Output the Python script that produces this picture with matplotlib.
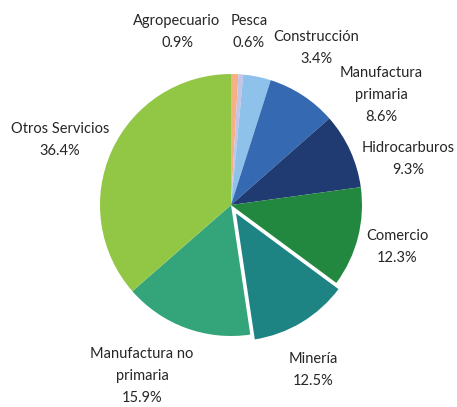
import matplotlib.pyplot as plt

# sector shares (%), clockwise from 12 o'clock
sectors = ["Agropecuario", "Pesca", "Construcción", "Manufactura\nprimaria",
           "Hidrocarburos", "Comercio", "Minería", "Manufactura no\nprimaria",
           "Otros Servicios"]
shares = [0.9, 0.6, 3.4, 8.6, 9.3, 12.3, 12.5, 15.9, 36.4]

colors = ["#F4B183", "#C5C3E6", "#8FC2EA", "#3569B2", "#203A72",
          "#22873F", "#1E8383", "#34A57A", "#92C746"]
# offset in pixels (pie is drawn in pixel-sized data units)
explode = [0, 0, 0, 0, 0, 0, 7, 0, 0]

# label centres in pixel coords (x, y from top)
label_pos = [(177, 32), (249, 32), (316, 48), (381, 95), (408, 159),
             (397, 247), (313, 370), (142, 376), (60, 140)]

W, H = 457, 407
fig = plt.figure(figsize=(W / 100, H / 100), dpi=100)
ax = fig.add_axes([0, 0, 1, 1])

cx, cy, r = 231, H - 205, 131
wedges, _ = ax.pie(shares, colors=colors, explode=explode, startangle=90,
                   counterclock=False, center=(cx, cy), radius=r, frame=True,
                   wedgeprops=dict(linewidth=0))
wedges[6].set_edgecolor("white")
wedges[6].set_linewidth(1.5)
ax.set_xlim(0, W)
ax.set_ylim(0, H)
ax.set_aspect("equal")
ax.axis("off")

for name, val, (x, y) in zip(sectors, shares, label_pos):
    ax.text(x, H - y, f"{name}\n{val:.1f}%", ha="center", va="center",
            fontsize=10.5, family="Lato", color="#262626", linespacing=1.75)

fig.savefig("out.png", dpi=100)
